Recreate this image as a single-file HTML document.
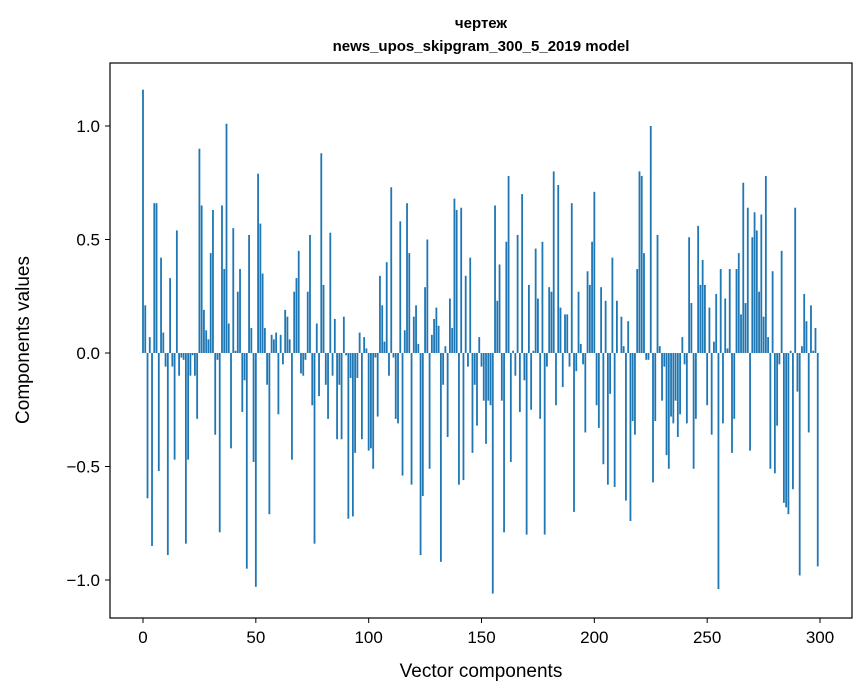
<!DOCTYPE html>
<html><head><meta charset="utf-8"><style>
body{margin:0;background:#fff;width:867px;height:696px;overflow:hidden}
svg{display:block;font-family:"Liberation Sans","DejaVu Sans",sans-serif}
</style></head><body>
<svg id="chart" width="867" height="696" viewBox="0 0 867 696">
<rect width="867" height="696" fill="#fff"/>
<text x="481" y="28" text-anchor="middle" font-size="15" font-weight="bold">чертеж</text>
<text x="481" y="51" text-anchor="middle" font-size="15" font-weight="bold">news_upos_skipgram_300_5_2019 model</text>
<g id="bars"></g>
<rect x="110" y="63" width="742" height="555" fill="none" stroke="#000" stroke-width="1.2"/>
<g id="xticks"></g>
<g id="yticks"></g>
<text x="481" y="677" text-anchor="middle" font-size="19">Vector components</text>
<text transform="translate(29,340) rotate(-90)" text-anchor="middle" font-size="19">Components values</text>
</svg>
<script>
const values = [
1.16,0.21,-0.64,0.07,-0.85,0.66,0.66,-0.52,0.42,0.09,
-0.06,-0.89,0.33,-0.06,-0.47,0.54,-0.10,-0.02,-0.03,-0.84,
-0.47,-0.10,-0.01,-0.10,-0.29,0.90,0.65,0.19,0.10,0.06,
0.44,0.63,-0.36,-0.03,-0.79,0.65,0.37,1.01,0.13,-0.42,
0.55,0.01,0.27,0.37,-0.26,-0.12,-0.95,0.52,0.11,-0.48,
-1.03,0.79,0.57,0.35,0.11,-0.14,-0.71,0.08,0.06,0.09,
-0.27,0.08,-0.05,0.19,0.16,0.06,-0.47,0.27,0.33,0.45,
-0.09,-0.10,-0.03,0.27,0.52,-0.23,-0.84,0.13,-0.19,0.88,
0.30,-0.14,-0.29,0.53,-0.10,0.15,-0.38,-0.14,-0.38,0.16,
-0.01,-0.73,-0.11,-0.72,-0.44,-0.11,0.09,-0.38,0.07,0.02,
-0.43,-0.42,-0.51,-0.02,-0.28,0.34,0.21,0.05,0.40,-0.10,
0.73,-0.02,-0.29,-0.31,0.58,-0.54,0.10,0.66,0.44,-0.58,
0.16,0.21,0.04,-0.89,-0.63,0.29,0.50,-0.51,0.08,0.15,
0.20,0.12,-0.92,-0.14,0.03,-0.37,0.24,0.11,0.68,0.63,
-0.58,0.64,-0.56,0.34,-0.06,0.42,-0.44,-0.14,-0.32,0.07,
-0.06,-0.21,-0.40,-0.21,-0.23,-1.06,0.65,0.23,0.39,-0.21,
-0.79,0.49,0.78,-0.48,0.01,-0.10,0.52,-0.26,0.70,-0.12,
-0.80,0.30,-0.25,0.01,0.46,0.24,-0.29,0.49,-0.80,-0.06,
0.29,0.27,0.80,-0.23,0.74,0.20,-0.15,0.17,0.17,-0.06,
0.66,-0.70,-0.08,0.27,0.04,-0.05,-0.35,0.36,0.30,0.49,
0.71,-0.23,-0.33,0.29,-0.49,0.23,-0.58,-0.18,0.42,-0.59,
0.23,0.0,0.16,0.03,-0.65,0.14,-0.74,-0.30,-0.36,0.37,
0.80,0.78,0.44,-0.03,-0.03,1.00,-0.57,-0.30,0.52,0.03,
-0.21,-0.06,-0.45,-0.51,-0.28,-0.31,-0.21,-0.37,-0.27,0.07,
-0.05,-0.31,0.51,0.22,-0.51,-0.29,0.56,0.30,0.41,0.30,
-0.23,0.20,-0.36,0.05,0.26,-1.04,0.37,-0.31,0.24,0.02,
0.37,-0.44,-0.29,0.37,0.44,0.17,0.75,0.22,0.64,-0.43,
0.51,0.62,0.54,0.27,0.61,0.16,0.78,0.07,-0.51,0.36,
-0.53,-0.32,-0.05,0.45,-0.66,-0.68,-0.71,0.01,-0.60,0.64,
-0.17,-0.98,0.03,0.26,0.14,-0.35,0.21,0.01,0.11,-0.94
];
const xTickLabels = ["0","50","100","150","200","250","300"];
const xTickValues = [0,50,100,150,200,250,300];
const yTickLabels = ["\u22121.0","\u22120.5","0.0","0.5","1.0"];
const yTickValues = [-1,-0.5,0,0.5,1];

const NS="http://www.w3.org/2000/svg";
function xs(v){return 143+v*(820-143)/300;}
function ys(v){return 353-v*227;}
const barW=0.8*(820-143)/300;
const gb=document.getElementById('bars');
values.forEach((v,i)=>{
  const r=document.createElementNS(NS,'rect');
  
  
  const y0=ys(0),y1=ys(v);
  r.setAttribute('x',xs(i)-barW/2);
  r.setAttribute('y',Math.min(y0,y1));
  r.setAttribute('width',barW);
  r.setAttribute('height',Math.max(Math.abs(y1-y0),0.01));
  r.setAttribute('fill','#1f77b4');
  gb.appendChild(r);
});
const gx=document.getElementById('xticks');
xTickValues.forEach((v,i)=>{
  const l=document.createElementNS(NS,'line');
  
  
  l.setAttribute('x1',xs(v));l.setAttribute('x2',xs(v));
  l.setAttribute('y1',618);l.setAttribute('y2',623);
  l.setAttribute('stroke','#000');
  gx.appendChild(l);
  const t=document.createElementNS(NS,'text');
  
  
  t.setAttribute('x',xs(v));t.setAttribute('y',643);
  t.setAttribute('text-anchor','middle');t.setAttribute('font-size','17');
  t.textContent=xTickLabels[i];
  gx.appendChild(t);
});
const gy=document.getElementById('yticks');
yTickValues.forEach((v,i)=>{
  const l=document.createElementNS(NS,'line');
  
  
  l.setAttribute('x1',105);l.setAttribute('x2',110);
  l.setAttribute('y1',ys(v));l.setAttribute('y2',ys(v));
  l.setAttribute('stroke','#000');
  gy.appendChild(l);
  const t=document.createElementNS(NS,'text');
  
  
  t.setAttribute('x',100);t.setAttribute('y',ys(v)+6);
  t.setAttribute('text-anchor','end');t.setAttribute('font-size','17');
  t.textContent=yTickLabels[i];
  gy.appendChild(t);
});
</script>
</body></html>
